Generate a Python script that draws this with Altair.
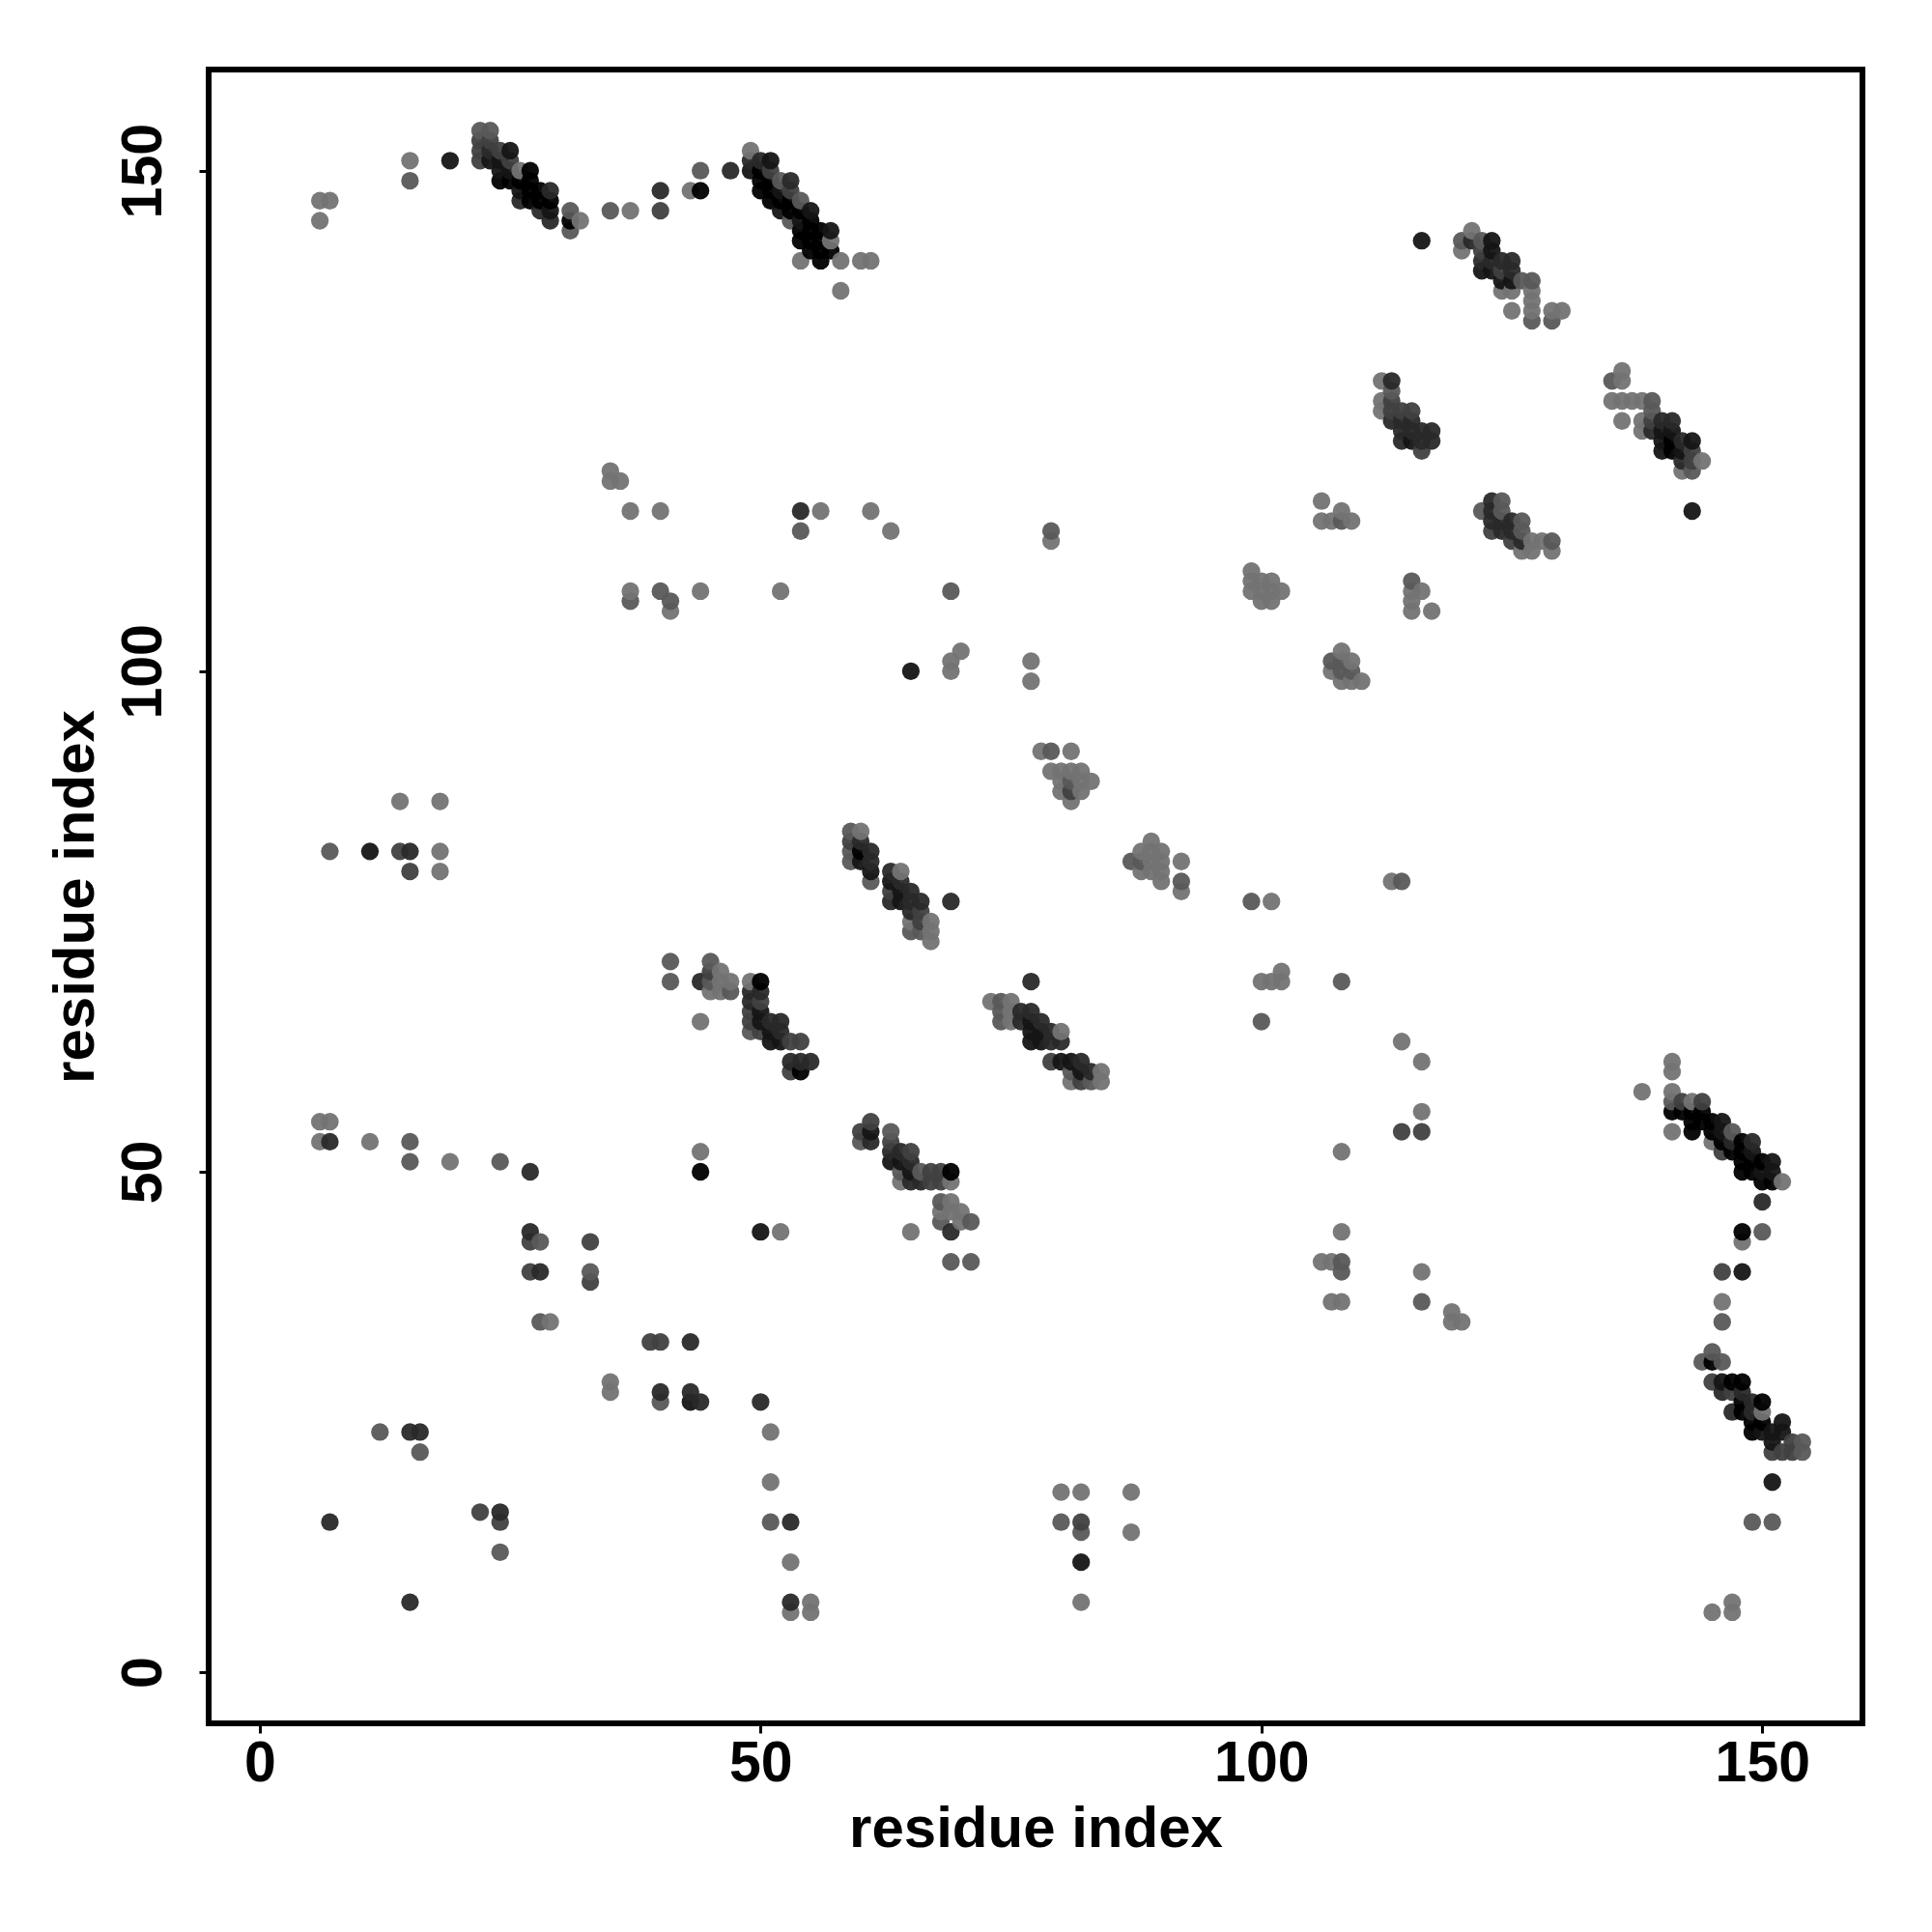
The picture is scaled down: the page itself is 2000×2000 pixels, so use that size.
import altair as alt
import pandas as pd

tick_values = [0, 50, 100, 150]
axis_title = "residue index"

# contact points by shade tier: (residue x, residue y)
tier_a = [(6,145),(6,147),(7,147),(15,151),(37,146),(43,148),(32,145),(26,150),(49,152),(57,143),(54,141),(58,141),(60,141),(61,141),(58,138),
 (121,144),(120,142),(124,138),(125,138),(127,138),(127,137),(127,136),(125,136),(130,136),(129,136),(136,130),(136,129),(135,127),(136,127),(137,127),(138,127),(136,125),(138,125),(138,124),(144,121),(142,120),
 (35,120),(35,119),(36,119),(37,116),(40,116),(37,108),(41,106),(44,108),(56,116),(61,116),(63,114),(52,108),(70,102),(69,101),(69,100),(77,101),(77,99),(79,113),
 (106,117),(106,115),(107,115),(108,116),(109,115),(99,110),(99,109),(99,108),(100,109),(101,109),(100,108),(101,108),(102,108),(100,107),(101,107),(115,108),(116,108),(115,107),(115,106),(117,106),
 (108,102),(107,100),(109,101),(108,99),(109,99),(110,99),(127,113),(128,113),(126,112),(127,112),(129,112),
 (112,129),(112,127),(112,126),
 (64,80),(60,84),(65,75),(67,75),(67,73),(67,74),(49,69),(46,70),(46,69),(46,68),(47,69),(45,68),(44,65),(73,67),(75,67),(75,66),(74,65),(75,65),(80,64),(84,60),(81,59),(84,59),
 (78,92),(81,92),(79,90),(80,90),(81,90),(82,90),(80,89),(82,89),(83,89),(80,88),(82,88),(81,87),(89,83),(89,82),(90,82),(90,81),(89,81),(88,80),(89,80),(90,80),(90,79),(92,81),(92,78),(88,82),
 (69,49),(69,47),(68,46),(69,46),(70,46),(68,45),(70,45),(65,44),(64,49),
 (141,61),(141,60),(138,58),(141,58),(141,54),(143,57),(145,53),(152,49),(146,37),(148,43),(150,26),
 (14,87),(18,87),(18,82),(18,80),(6,55),(7,55),(6,53),(11,53),(19,51),(29,35),(35,29),(35,28),(51,24),(51,19),(53,11),(53,6),(55,7),(55,6),(44,52),(52,44),(80,18),(82,18),(87,18),(87,14),(82,7),(101,77),(102,70),(101,69),(100,69),(102,69),(113,79),(114,63),(116,61),(116,56),(108,52),(108,44),(106,41),(107,41),(108,37),(107,37),(116,40),(119,36),(119,35),(120,35),(145,6),(147,7),(147,6)]
tier_b = [(22,154),(23,154),(15,149),(31,146),(31,144),(35,146),(44,150),(52,149),(54,147),(53,145),
 (120,143),(122,143),(126,139),(127,139),(127,135),(129,135),(135,129),(139,127),(139,126),(143,120),(113,128),
 (124,117),(124,116),(122,116),(126,115),(129,113),(126,114),(108,115),(79,114),
 (54,114),(40,108),(69,108),(37,107),(41,107),(115,109),(107,101),(108,101),(108,100),(109,100),(88,81),(81,89),
 (59,84),(59,82),(59,81),(61,79),(65,74),(66,74),(41,71),(41,69),(45,71),(45,69),(47,68),(49,64),(74,67),(74,66),(74,65),(81,60),(83,59),
 (79,92),(87,81),(92,79),(63,54),(60,53),(64,50),(65,50),(66,50),(68,47),(68,45),(69,41),(71,41),(71,45),
 (150,44),(146,35),(145,32),(144,31),(146,31),(154,23),(154,22),(147,54),(141,57),(151,15),(149,15),(12,24),
 (7,82),(15,53),(15,51),(24,51),(28,35),(40,27),(28,43),(33,40),(51,15),(80,15),(82,14),(99,77),(100,65),(108,69),(114,79),(108,41),(108,40),(116,37),(24,12),(16,22)]
tier_c = [(22,153),(23,153),(22,152),(22,151),(24,152),(25,151),(51,150),(53,148),(40,146),
 (122,142),(124,140),(114,126),(115,126),(113,127),(113,126),(116,122),(123,114),(125,113),(81,88),
 (139,125),(143,122),(143,121),(59,83),(63,78),(66,76),(66,75),(53,60),(54,60),(45,70),(50,67),(49,66),(49,65),(50,64),(53,63),(54,63),(79,61),(82,59),(64,51),(68,50),(67,50),(67,49),(68,49),
 (60,54),(61,55),(63,53),(65,52),(144,57),(142,57),(146,52),(145,29),(147,28),(151,22),(152,22),(153,22),(153,23),(146,40),
 (15,80),(14,82),(27,43),(33,39),(27,40),(33,43),(40,33),(39,33),(24,15),(22,16),(82,15),(114,54),(116,54)]
tier_d = [(23,152),(26,147),(28,146),(29,148),(29,145),(40,148),(47,150),(49,151),(50,151),(53,149),
 (121,143),(122,141),(123,141),(124,141),(125,141),(125,140),(126,113),(123,117),(123,116),(123,115),(124,115),(124,114),(125,115),(125,114),
 (139,124),(140,125),(141,125),(142,123),(142,121),(115,125),(114,125),(113,125),(113,129),(116,124),(117,124),(117,123),(116,123),(114,124),(114,123),(115,124),
 (60,83),(61,82),(61,81),(63,80),(64,79),(65,78),(65,77),(66,77),(65,76),(69,77),(63,77),(44,69),(49,67),(49,68),(50,68),(51,65),(52,65),(52,64),(53,61),(55,61),(54,61),(76,66),(76,65),(77,66),(77,69),(78,65),(79,64),(80,63),(79,63),(82,61),(83,60),
 (61,53),(63,52),(64,52),(65,51),(65,49),(66,49),(69,44),(27,50),(147,53),(149,53),(150,47),(149,26),(147,26),(147,29),(146,28),(148,28),(149,27),
 (7,53),(15,82),(27,44),(28,40),(43,33),(43,28),(40,28),(44,27),(50,27),(15,24),(16,24),(7,15),(24,16),(53,15),(53,7),(15,7),(54,116)]
tier_e = [(19,151),(23,151),(25,152),(24,151),(24,150),(25,150),(26,148),(29,146),(49,150),(51,151),(52,148),(52,146),(55,146),(54,145),(57,144),
 (116,143),(123,143),(122,140),(123,142),(124,139),(125,139),(123,140),(143,123),(140,124),(141,124),(140,123),(140,122),(142,122),(115,123),
 (61,80),(60,81),(63,79),(64,78),(64,77),(50,66),(50,65),(51,64),(51,63),(52,63),(78,64),(77,65),(77,64),(77,63),(78,63),(80,61),(82,60),(81,61),
 (61,54),(64,51),(63,51),(65,50),(146,55),(146,54),(149,52),(151,51),(151,50),(150,50),(148,40),(146,29),(150,24),(152,25),(151,23),(151,24),(152,24),(151,19),
 (11,82),(65,100),(50,44),(82,11),(43,27),(143,116)]
tier_f = [(24,149),(25,149),(27,150),(26,149),(27,149),(27,148),(27,147),(28,148),(28,147),(29,147),(31,145),(44,148),
 (50,150),(50,149),(51,149),(50,148),(51,148),(51,147),(52,147),(53,147),(53,146),(54,146),(55,145),(54,144),(55,144),(56,144),(54,143),(55,143),(56,143),(55,142),(56,142),(57,142),(56,141),
 (60,82),(50,69),(54,60),(69,50),(44,50),(141,56),(142,56),(143,56),(143,55),(144,56),(144,55),(145,55),(145,54),(146,53),(147,52),(148,53),(148,52),(148,51),(148,50),(149,51),(149,50),(150,51),(150,49),(151,49),(143,54),
 (147,29),(148,29),(148,27),(148,26),(149,25),(150,27),(150,25),(149,24),(148,44),(145,31),(141,122),(141,123)]

shades = ["#737373", "#595959", "#404040", "#292929", "#151515", "#000000"]
tiers = [tier_a, tier_b, tier_c, tier_d, tier_e, tier_f]
cells = {}
for shade, pts in zip(shades, tiers):
    for p in pts:
        cells[p] = shade
df = pd.DataFrame([{"x": p[0], "y": p[1], "shade": s} for p, s in cells.items()]).sort_values(["x", "y"])

FONT = "Liberation Sans"
points = alt.Chart(df).mark_circle(size=335, opacity=0.95).encode(
    x=alt.X("x:Q", scale=alt.Scale(domain=[-5.1, 160], nice=False, zero=False),
            axis=alt.Axis(values=tick_values, grid=False, domain=False, tickColor="black", tickWidth=3, tickSize=10,
                          labelFont=FONT, labelFontWeight="bold", labelFontSize=59, labelColor="black", labelPadding=2,
                          labelBaseline="top", labelFlush=False, labelOverlap=False,
                          title=axis_title, titleFont=FONT, titleFontWeight="bold", titleFontSize=60, titleColor="black",
                          titlePadding=9)),
    y=alt.Y("y:Q", scale=alt.Scale(domain=[-5.1, 160.1], nice=False, zero=False),
            axis=alt.Axis(values=tick_values, grid=False, domain=False, tickColor="black", tickWidth=3, tickSize=10,
                          labelFont=FONT, labelFontWeight="bold", labelFontSize=59, labelColor="black", labelPadding=58,
                          labelAngle=270, labelAlign="center", labelBaseline="middle", labelFlush=False, labelOverlap=False,
                          title=axis_title, titleFont=FONT, titleFontWeight="bold", titleFontSize=60, titleColor="black",
                          titlePadding=10)),
    color=alt.Color("shade:N", scale=None, legend=None),
)

chart = points.properties(
    width=1712, height=1712, background="white",
    autosize=alt.AutoSizeParams(type="none"),
    padding={"left": 208, "top": 64, "right": 40, "bottom": 160},
).configure_view(stroke="black", strokeWidth=6, fill="white")

chart.save("out.html", embed_options={"renderer": "svg", "actions": False})
